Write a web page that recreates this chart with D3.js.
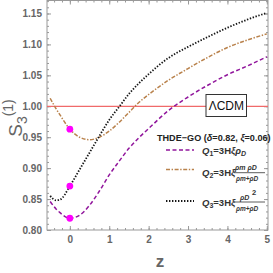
<!DOCTYPE html>
<html><head><meta charset="utf-8">
<script src="https://cdn.jsdelivr.net/npm/d3@7"></script>
<style>body{margin:0;background:#fff}svg{display:block}text{font-family:"Liberation Sans",Arial,sans-serif}</style>
</head><body><svg id="c" width="273" height="273"></svg>
<script>
const zs   = [-0.5,-0.35,-0.25,0,0.25,0.5,0.75,1,1.25,1.5,1.75,2,2.5,3,3.5,4,4.5,5];
const q1   = [0.846,0.834,0.828,0.819,0.824,0.840,0.863,0.889,0.911,0.932,0.949,0.964,0.993,1.015,1.034,1.051,1.065,1.080];
const q2   = [1.013,0.996,0.986,0.963,0.950,0.946,0.950,0.960,0.974,0.990,1.006,1.019,1.042,1.061,1.079,1.095,1.107,1.117];
const q3   = [0.855,0.848,0.849,0.871,0.898,0.925,0.952,0.978,0.999,1.020,1.037,1.052,1.078,1.096,1.112,1.127,1.140,1.151];
const dots = [0.963,0.871,0.819];
const xTicks = [0,1,2,3,4,5];
const yTicks = [0.80,0.85,0.90,0.95,1.00,1.05,1.10,1.15];
const lcdm = 1.0;

const svg = d3.select("#c");
const L=47,R=268,T=0.5,B=230;
const x = d3.scaleLinear([-0.58,5.03],[L,R]);
const y = d3.scaleLinear([0.8,1.171],[B,T]);
const frame="#999", lab="#666";

svg.append("defs").append("clipPath").attr("id","cp").append("rect")
  .attr("x",L).attr("y",T).attr("width",R-L).attr("height",B-T);

const xMinor = d3.range(-0.4,5.01,0.2).map(v=>+v.toFixed(2));
const yMinor = d3.range(0.80,1.171,0.01).map(v=>+v.toFixed(2));
function styleAxis(g){g.select(".domain").remove();g.selectAll("line").attr("stroke",frame);g.selectAll("text").attr("fill",lab).style("font-size","10px").style("font-weight","bold");}
svg.append("g").attr("transform",`translate(0,${B})`).call(d3.axisBottom(x).tickValues(xMinor).tickSize(-2).tickFormat("")).call(styleAxis);
svg.append("g").attr("transform",`translate(0,${T})`).call(d3.axisTop(x).tickValues(xMinor).tickSize(-2).tickFormat("")).call(styleAxis);
svg.append("g").attr("transform",`translate(${L},0)`).call(d3.axisLeft(y).tickValues(yMinor).tickSize(-2).tickFormat("")).call(styleAxis);
svg.append("g").attr("transform",`translate(${R},0)`).call(d3.axisRight(y).tickValues(yMinor).tickSize(-2).tickFormat("")).call(styleAxis);
svg.append("g").attr("transform",`translate(0,${B})`).call(d3.axisBottom(x).tickValues(xTicks).tickSize(-4).tickPadding(6).tickFormat(d3.format("d"))).call(styleAxis);
svg.append("g").attr("transform",`translate(0,${T})`).call(d3.axisTop(x).tickValues(xTicks).tickSize(-4).tickFormat("")).call(styleAxis);
svg.append("g").attr("transform",`translate(${L},0)`).call(d3.axisLeft(y).tickValues(yTicks).tickSize(-4).tickPadding(5).tickFormat(d3.format(".2f"))).call(styleAxis);
svg.append("g").attr("transform",`translate(${R},0)`).call(d3.axisRight(y).tickValues(yTicks).tickSize(-4).tickFormat("")).call(styleAxis);
svg.append("rect").attr("x",L).attr("y",T).attr("width",R-L).attr("height",B-T).attr("fill","none").attr("stroke",frame).attr("stroke-width",1);

const plot = svg.append("g").attr("clip-path","url(#cp)");
plot.append("line").attr("x1",L).attr("x2",R).attr("y1",y(lcdm)).attr("y2",y(lcdm)).attr("stroke","#f06a6a").attr("stroke-width",1.2);

const line = d3.line().x((d,i)=>x(zs[i])).y(d=>y(d)).curve(d3.curveMonotoneX);
const series=[
 {v:q1,c:"#91169c",dash:"4,2.5",w:1.5},
 {v:q2,c:"#b9824c",dash:"4,1.6,1.4,1.6",w:1.5},
 {v:q3,c:"#151515",dash:"1.4,1.6",w:1.8}
];
series.forEach(s=>plot.append("path").attr("d",line(s.v)).attr("fill","none").attr("stroke",s.c).attr("stroke-width",s.w).attr("stroke-dasharray",s.dash));
plot.selectAll("circle").data(dots).join("circle").attr("cx",x(0)).attr("cy",d=>y(d)).attr("r",3.4).attr("fill","#ff00ff");

svg.append("rect").attr("x",206).attr("y",94.5).attr("width",40.5).attr("height",22).attr("fill","#fff").attr("stroke","#333").attr("stroke-width",1);
svg.append("text").attr("x",226.3).attr("y",110).attr("text-anchor","middle").style("font-size","12px").attr("fill","#111").text("ΛCDM");

svg.append("text").attr("x",160).attr("y",267).attr("text-anchor","middle").style("font-size","17px").style("font-weight","bold").attr("fill",lab).text("z");
const yt = svg.append("text").attr("transform","translate(22,118) rotate(-90)").attr("text-anchor","middle").attr("fill",lab).style("font-size","19px");
yt.append("tspan").text("S");
yt.append("tspan").attr("dy",5).style("font-size","14px").text("3");
yt.append("tspan").attr("dy",-14).style("font-size","14px").text("(1)");

const lg = svg.append("g");
lg.append("text").attr("x",157).attr("y",141).style("font-size","9.1px").style("font-weight","bold").attr("fill","#222")
  .html('THDE−GO (<tspan font-style="italic">δ</tspan>=0.82, <tspan font-style="italic">ξ</tspan>=0.06)');
const rows=[{y:150,s:series[0]},{y:169.5,s:series[1]},{y:201,s:series[2]}];
rows.forEach(r=>lg.append("line").attr("x1",166).attr("x2",194).attr("y1",r.y).attr("y2",r.y).attr("stroke",r.s.c).attr("stroke-width",r.s.w).attr("stroke-dasharray",r.s.dash));
function T2(x0,y0,html,fs){return lg.append("text").attr("x",x0).attr("y",y0).style("font-size",fs||"9.5px").style("font-weight","bold").attr("fill","#333").html(html);}
T2(202,154,'<tspan font-style="italic">Q</tspan><tspan font-size="7px" dy="2">1</tspan><tspan dy="-2">=3H</tspan><tspan font-style="italic">ξρ</tspan><tspan font-size="7px" dy="2" font-style="italic">D</tspan>');
T2(202,176,'<tspan font-style="italic">Q</tspan><tspan font-size="7px" dy="2">2</tspan><tspan dy="-2">=3H</tspan><tspan font-style="italic">ξ</tspan>');
T2(235,170,'<tspan font-style="italic">ρm ρD</tspan>',"7px");
lg.append("line").attr("x1",234).attr("x2",265).attr("y1",172.7).attr("y2",172.7).attr("stroke","#333").attr("stroke-width",0.8);
T2(236,181,'<tspan font-style="italic">ρm+ρD</tspan>',"6.5px");
T2(202,206,'<tspan font-style="italic">Q</tspan><tspan font-size="7px" dy="2">3</tspan><tspan dy="-2">=3H</tspan><tspan font-style="italic">ξ</tspan>');
T2(240,199.5,'<tspan font-style="italic">ρD</tspan>',"7px");
T2(252,195,'2',"7.5px");
lg.append("line").attr("x1",234).attr("x2",265).attr("y1",202).attr("y2",202).attr("stroke","#333").attr("stroke-width",0.8);
T2(236,211,'<tspan font-style="italic">ρm+ρD</tspan>',"6.5px");
</script></body></html>
